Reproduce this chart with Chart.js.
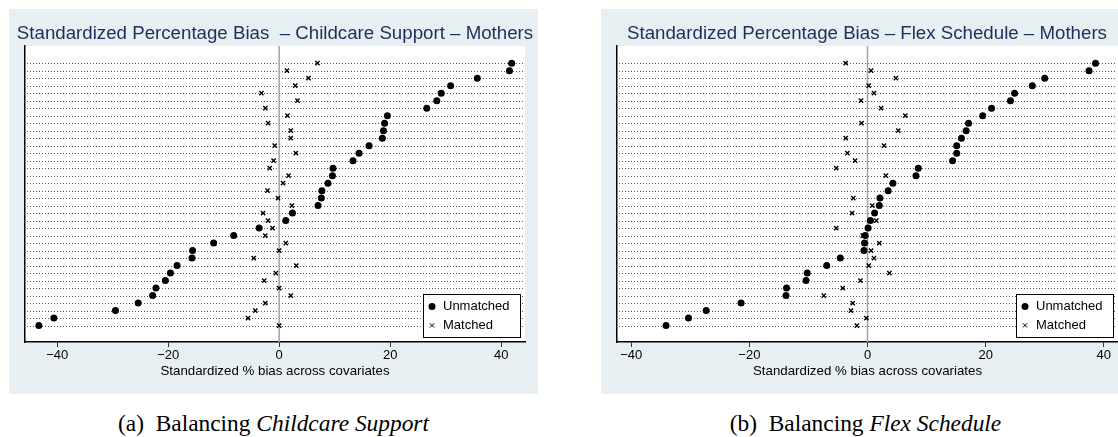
<!DOCTYPE html>
<html>
<head>
<meta charset="utf-8">
<script src="https://cdn.jsdelivr.net/npm/chart.js@4"></script>
<style>
  html, body { margin: 0; padding: 0; background: #fff; width: 1118px; height: 437px; overflow: hidden; }
  .panel { position: absolute; top: 9px; width: 529px; height: 385px; background: #e8eff2; }
  .panel canvas { display: block; }
  .caption {
    position: absolute; top: 409.6px; width: 529px; text-align: center;
    font-family: "Liberation Serif", "Times New Roman", serif; font-size: 23.4px;
    line-height: 27px; white-space: pre; color: #000;
  }
</style>
</head>
<body>
<div class="panel" style="left:9px"><canvas id="childcare" width="529" height="385"></canvas></div>
<div class="panel" style="left:601px"><canvas id="flex" width="529" height="385"></canvas></div>
<div class="caption" style="left:9px">(a)  Balancing <i>Childcare Support</i></div>
<div class="caption" style="left:601px">(b)  Balancing <i>Flex Schedule</i></div>

<script>
// standardized % bias per covariate, rows top to bottom (sorted by unmatched bias)
const childcareUnmatched = [41.9, 41.5, 35.7, 30.9, 29.2, 28.4, 26.6, 19.5, 19.0, 18.8, 18.6, 16.2,
  14.4, 13.3, 9.7, 9.6, 8.8, 7.7, 7.6, 7.0, 2.4, 1.2, -3.6, -8.2, -11.8, -15.6, -15.7, -18.4,
  -19.6, -20.5, -22.2, -22.8, -25.4, -29.5, -40.6, -43.3];
const childcareMatched = [6.9, 1.4, 5.3, 2.9, -3.2, 3.3, -2.5, 1.5, -2.0, 2.1, 2.1, -0.8,
  3.0, -1.0, -1.7, 1.7, 0.7, -2.1, -0.2, 2.3, -2.9, -2.0, -1.2, -2.5, 1.2, 0.0, -4.6, 3.1,
  -0.6, -2.7, 0.0, 2.1, -2.5, -4.3, -5.6, 0.0];

const flexUnmatched = [38.6, 37.5, 30.0, 27.9, 24.9, 24.2, 21.0, 19.5, 17.1, 16.7, 15.9, 15.1,
  15.1, 14.4, 8.6, 8.2, 4.3, 3.5, 2.1, 2.0, 1.2, 0.5, 0.1, -0.4, -0.5, -0.6, -4.6, -6.9,
  -10.2, -10.4, -13.7, -13.8, -21.4, -27.3, -30.3, -34.1];
const flexMatched = [-3.7, 0.6, 4.8, 0.2, 1.1, -1.1, 2.3, 6.4, -1.0, 5.2, -3.7, 2.8,
  -3.4, -2.1, -5.3, 3.1, 4.3, 3.5, -2.4, 0.8, -2.6, 1.5, -5.3, -0.8, 2.0, 0.6, 1.1, 0.2,
  3.7, -1.2, -4.2, -7.4, -2.5, -2.8, -0.2, -1.8];

const xTicks = [-40, -20, 0, 20, 40];
const seriesNames = ['Unmatched', 'Matched'];
const xTitle = 'Standardized % bias across covariates';

const SANS = '"Liberation Sans", Arial, Helvetica, sans-serif';

// white plot region, dotted row lines, zero line, titles and legend
const stataPlot = {
  id: 'stataPlot',
  beforeDraw(chart) {
    const { ctx, chartArea: a } = chart;
    ctx.save();
    ctx.fillStyle = '#fff';
    ctx.fillRect(a.left, a.top, a.right - a.left, a.bottom - a.top);
    ctx.restore();
  },
  beforeDatasetsDraw(chart) {
    const { ctx, chartArea: a, scales } = chart;
    const n = chart.data.datasets[0].data.length;
    ctx.save();
    ctx.strokeStyle = 'rgba(0,0,0,0.65)';
    ctx.lineWidth = 1;
    ctx.setLineDash([1, 2]);
    for (let i = 0; i < n; i++) {
      const y = Math.round(scales.y.getPixelForValue(i)) + 0.5;
      ctx.beginPath();
      ctx.moveTo(a.left + 2, y);
      ctx.lineTo(a.right - 2, y);
      ctx.stroke();
    }
    ctx.setLineDash([]);
    const x0 = scales.x.getPixelForValue(0);
    ctx.strokeStyle = '#a3a3a3';
    ctx.lineWidth = 1.5;
    ctx.beginPath();
    ctx.moveTo(x0, a.top);
    ctx.lineTo(x0, a.bottom);
    ctx.stroke();
    ctx.restore();
  },
  afterDraw(chart, args, opts) {
    const { ctx, chartArea: a } = chart;
    ctx.save();
    // graph title (drawn here so it is not squeezed to the plot width)
    ctx.font = '18.7px ' + SANS;
    ctx.fillStyle = '#1e2e5a';
    ctx.textAlign = 'center';
    ctx.textBaseline = 'alphabetic';
    ctx.fillText(opts.title, 266, 30.3);
    // x axis title
    ctx.font = '13.3px ' + SANS;
    ctx.fillStyle = '#000';
    ctx.fillText(xTitle, (a.left + a.right) / 2, a.bottom + 33);

    // legend box inside the plot, lower right
    const w = 97, h = 43;
    const left = a.right - 5 - w, top = a.bottom - 5 - h;
    ctx.fillStyle = '#fff';
    ctx.fillRect(left, top, w, h);
    ctx.strokeStyle = '#000';
    ctx.lineWidth = 1;
    ctx.strokeRect(Math.round(left) + 0.5, Math.round(top) + 0.5, w, h);
    ctx.font = '13px ' + SANS;
    ctx.textAlign = 'left';
    ctx.textBaseline = 'middle';
    chart.data.datasets.forEach((ds, i) => {
      const y = top + 12.4 + i * 19;
      ctx.fillStyle = '#000';
      ctx.strokeStyle = '#000';
      Chart.helpers.drawPoint(ctx, {
        pointStyle: ds.pointStyle, radius: ds.pointRadius, borderWidth: ds.borderWidth
      }, left + 9, y);
      ctx.fillStyle = '#000';
      ctx.fillText(ds.label, left + 20, y + 0.5);
    });
    ctx.restore();
  }
};

function makePanel(id, title, unmatched, matched, xMin, xMax, rightPad) {
  const pts = vals => vals.map((v, i) => ({ x: v, y: i }));
  return new Chart(document.getElementById(id), {
    type: 'scatter',
    data: {
      datasets: [
        { label: seriesNames[0], data: pts(unmatched), pointStyle: 'circle', pointRadius: 3.5,
          backgroundColor: '#000', borderColor: '#000', borderWidth: 0 },
        { label: seriesNames[1], data: pts(matched), pointStyle: 'crossRot', pointRadius: 3,
          backgroundColor: '#000', borderColor: '#000', borderWidth: 1.4 }
      ]
    },
    options: {
      responsive: false,
      animation: false,
      devicePixelRatio: 1,
      events: [],
      layout: { padding: { left: 16, right: rightPad, top: 37, bottom: 29.6 } },
      plugins: {
        legend: { display: false },
        tooltip: { enabled: false },
        title: { display: false },
        stataPlot: { title: title }
      },
      scales: {
        x: {
          type: 'linear', min: xMin, max: xMax,
          afterBuildTicks: s => { s.ticks = xTicks.map(v => ({ value: v })); },
          grid: { drawOnChartArea: false, drawTicks: true, tickLength: 5, color: '#333', lineWidth: 1 },
          border: { display: true, color: '#000', width: 1.5 },
          ticks: {
            color: '#000', padding: 2.2, maxRotation: 0,
            font: { family: SANS, size: 13, lineHeight: 1 },
            callback: v => String(v).replace('-', '\u2212')
          },
          title: { display: false }
        },
        y: {
          type: 'linear', reverse: true, min: -2.3, max: 37.2,
          afterBuildTicks: s => { s.ticks = []; },
          grid: { display: false, drawTicks: false },
          ticks: { display: false },
          border: { display: true, color: '#000', width: 1.5 }
        }
      }
    },
    plugins: [stataPlot]
  });
}

makePanel('childcare', 'Standardized Percentage Bias  \u2013 Childcare Support \u2013 Mothers',
  childcareUnmatched, childcareMatched, -45.8, 44.3, 13);
makePanel('flex', 'Standardized Percentage Bias \u2013 Flex Schedule \u2013 Mothers',
  flexUnmatched, flexMatched, -42.4, 42.4, 12);
</script>
</body>
</html>
